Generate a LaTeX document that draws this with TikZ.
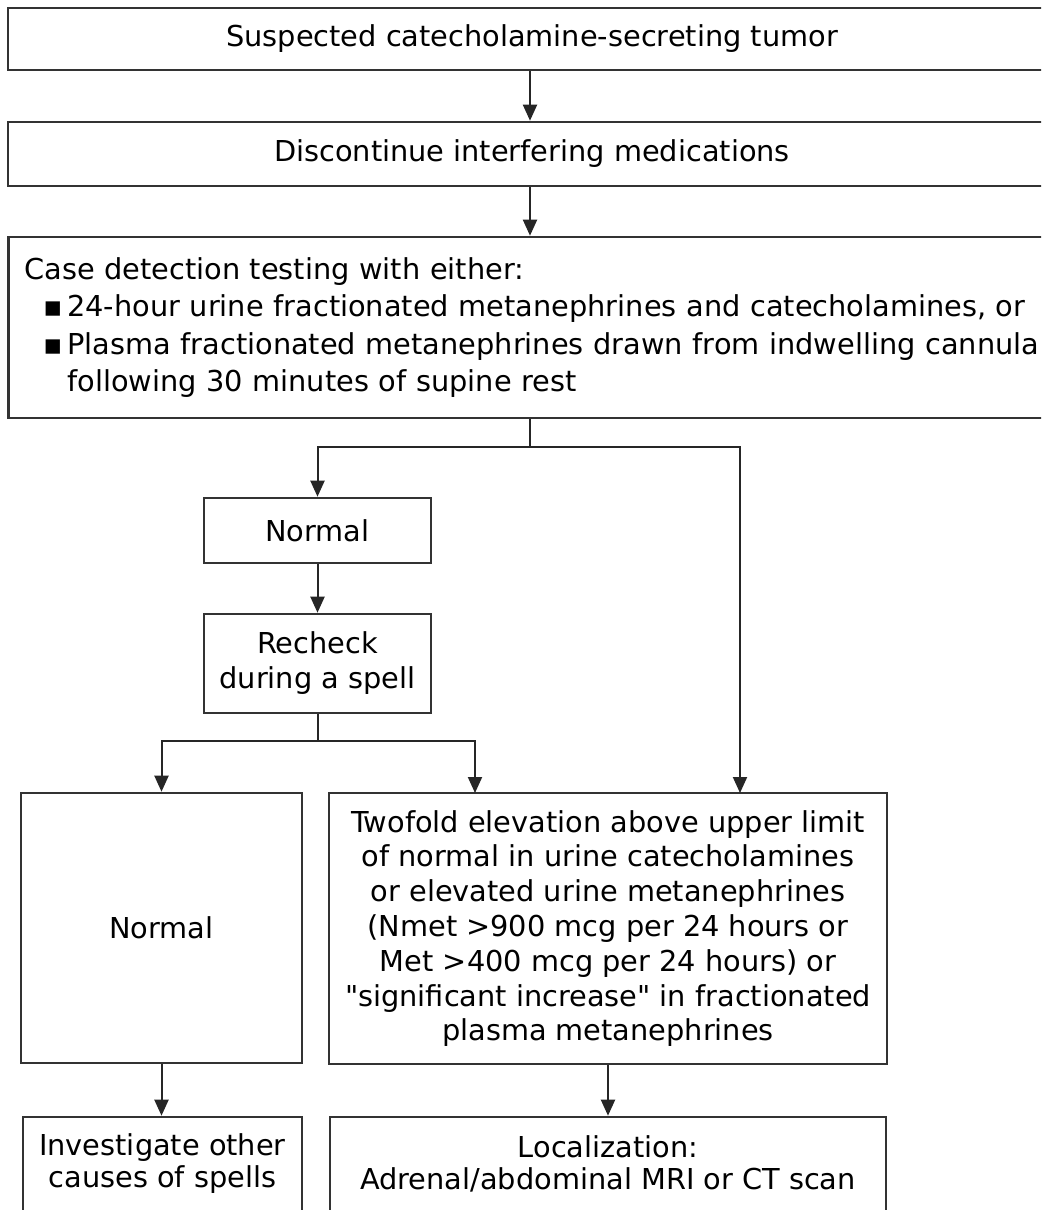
\documentclass[tikz,border=0pt]{standalone}
\usepackage{fontspec}
\setmainfont{DejaVu Sans}[Ligatures=TeXOff]
\usepackage{tikz}
\usetikzlibrary{arrows.meta, positioning}
\tikzset{
  flowbox/.style={
    draw=black!80, line width=1.3pt, align=center, fill=white,
    font=\fontsize{14.4}{17.5}\selectfont, inner sep=2pt
  },
  flowarrow/.style={-{Triangle[length=8pt, width=7pt]}, line width=1pt, draw=black!85},
  flowline/.style={line width=1pt, draw=black!85},
}
\begin{document}
\begin{tikzpicture}[x=0.5pt, y=-0.5pt]
  \useasboundingbox (0,0) rectangle (1041,1210);
  \clip (0,0) rectangle (1041,1210);

  % Top of the chart (right edges run off the page)
  \node[flowbox, minimum width=524pt, minimum height=31pt] (suspect) at (532,39) {Suspected catecholamine-secreting tumor};
  \node[flowbox, minimum width=524pt, minimum height=32pt] (discont) at (532,154) {Discontinue interfering medications};
  \node[flowbox, anchor=west, align=left, text width=512pt, inner xsep=8pt, minimum height=90.5pt,
        font=\fontsize{14.4}{18.75}\selectfont] (detect) at (7,327.5) {Case detection testing with either:\\
    \hspace*{9.5pt}\makebox[12pt][l]{▪}24-hour urine fractionated metanephrines and catecholamines, or\\
    \hspace*{9.5pt}\makebox[12pt][l]{▪}Plasma fractionated metanephrines drawn from indwelling cannula\\
    \hspace*{21.5pt}following 30 minutes of supine rest};

  % Left branch
  \node[flowbox, minimum width=113.5pt, minimum height=32.5pt] (normA) at (317.5,530.5) {Normal};
  \node[flowbox, minimum width=113.5pt, minimum height=49.5pt] (recheck) at (317.5,663.5) {Recheck\\during a spell};

  % Results
  \node[flowbox, minimum width=140.5pt, minimum height=135pt] (normB) at (161.5,928) {Normal};
  \node[flowbox, minimum width=279pt, minimum height=135.5pt, font=\fontsize{14.4}{17.4}\selectfont] (elev) at (608,928.5) {Twofold elevation above upper limit\\of normal in urine catecholamines\\or elevated urine metanephrines\\(Nmet >900 mcg per 24 hours or\\Met >400 mcg per 24 hours) or\\"significant increase" in fractionated\\plasma metanephrines};

  % Bottom row
  \node[flowbox, minimum width=139.5pt, minimum height=47pt, font=\fontsize{14.4}{16}\selectfont] (invest) at (162.5,1164) {Investigate other\\causes of spells};
  \node[flowbox, minimum width=278pt, minimum height=47pt, font=\fontsize{14.4}{16}\selectfont] (local) at (608,1164) {Localization:\\Adrenal/abdominal MRI or CT scan};

  % Connectors
  \coordinate (trunk) at (530,0);
  \coordinate (splitA) at (530,447);
  \coordinate (splitB) at (317.5,741);
  \draw[flowarrow] (suspect.south -| trunk) -- (discont.north -| trunk);
  \draw[flowarrow] (discont.south -| trunk) -- (detect.north -| trunk);
  \draw[flowline] (detect.south -| trunk) -- (splitA);
  \draw[flowarrow] (splitA) -| (normA.north);
  \draw[flowarrow] (splitA) -| (740,793);
  \draw[flowarrow] (normA) -- (recheck);
  \draw[flowline] (recheck.south) -- (splitB);
  \draw[flowarrow] (splitB) -| (normB.north);
  \draw[flowarrow] (splitB) -| (475,793);
  \draw[flowarrow] (normB.south) -- (normB.south |- invest.north);
  \draw[flowarrow] (elev.south) -- (elev.south |- local.north);
\end{tikzpicture}
\end{document}
